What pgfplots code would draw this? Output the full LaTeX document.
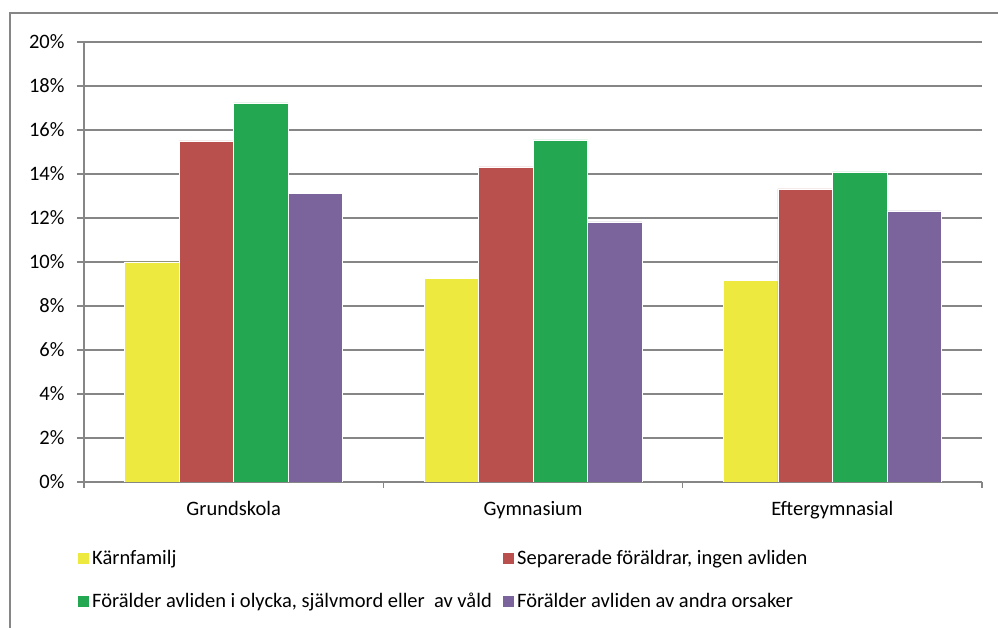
\documentclass[border=0pt]{standalone}
\usepackage{fontspec}
\setmainfont{Carlito}
\usepackage{pgfplots}
\pgfplotsset{compat=1.18}

\definecolor{cYellow}{RGB}{238,233,62}
\definecolor{cRed}{RGB}{185,80,77}
\definecolor{cGreen}{RGB}{35,167,81}
\definecolor{cPurple}{RGB}{123,99,155}
\definecolor{cGrid}{RGB}{134,134,134}

\newcommand{\chartfont}{\fontsize{20.5}{24}\selectfont}

\begin{document}
\begin{tikzpicture}
\begin{axis}[
    at={(84pt,146pt)}, anchor=south west,
    width=898pt, height=440pt, scale only axis,
    ymin=0, ymax=20, ytick={0,2,...,20},
    yticklabel={\pgfmathprintnumber{\tick}\%},
    xmin=-0.5, xmax=2.5,
    xtick={0,1,2},
    xticklabels={Grundskola,Gymnasium,Eftergymnasial},
    minor xtick={-0.5,0.5,1.5,2.5},
    every major x tick/.append style={draw=none},
    tick align=outside, major tick length=7pt, minor tick length=6pt,
    tick style={cGrid, line width=1.5pt},
    axis x line*=bottom, axis y line*=left,
    axis line style={cGrid, line width=1.5pt},
    ymajorgrids, grid style={cGrid, line width=1.5pt},
    tick label style={font=\chartfont},
    yticklabel style={xshift=-9pt},
    xticklabel style={yshift=-9pt},
    /pgf/number format/assume math mode=true,
    ybar=0pt, bar width=54.5pt,
    legend columns=2,
    legend cell align=left,
    legend style={at={(-0.011,-0.145)}, anchor=north west, draw=none, fill=none,
        font=\chartfont, row sep=22pt,
        nodes={inner sep=2.5pt},
        /tikz/every even column/.append style={column sep=8pt}},
    legend image code/.code={\fill[#1] (0pt,-6pt) rectangle (12pt,6pt);},
]
\addplot[fill=cYellow, draw=white, line width=0.4pt] coordinates {(0,10.0) (1,9.27) (2,9.17)};
\addplot[fill=cRed, draw=white, line width=0.4pt] coordinates {(0,15.5) (1,14.32) (2,13.32)};
\addplot[fill=cGreen, draw=white, line width=0.4pt] coordinates {(0,17.23) (1,15.55) (2,14.1)};
\addplot[fill=cPurple, draw=white, line width=0.4pt] coordinates {(0,13.12) (1,11.82) (2,12.32)};
\legend{Kärnfamilj, {Separerade föräldrar, ingen avliden}, {Förälder avliden i olycka, självmord eller \ av våld}, Förälder avliden av andra orsaker}
\end{axis}
% outer chart frame (cut by the image edge on the right and bottom)
\draw[cGrid, line width=1.5pt] (10pt,-5pt) -- (10pt,615pt) -- (1010pt,615pt);
\pgfresetboundingbox
\path[use as bounding box] (0pt,0pt) rectangle (998pt,628pt);
\end{tikzpicture}
\end{document}
